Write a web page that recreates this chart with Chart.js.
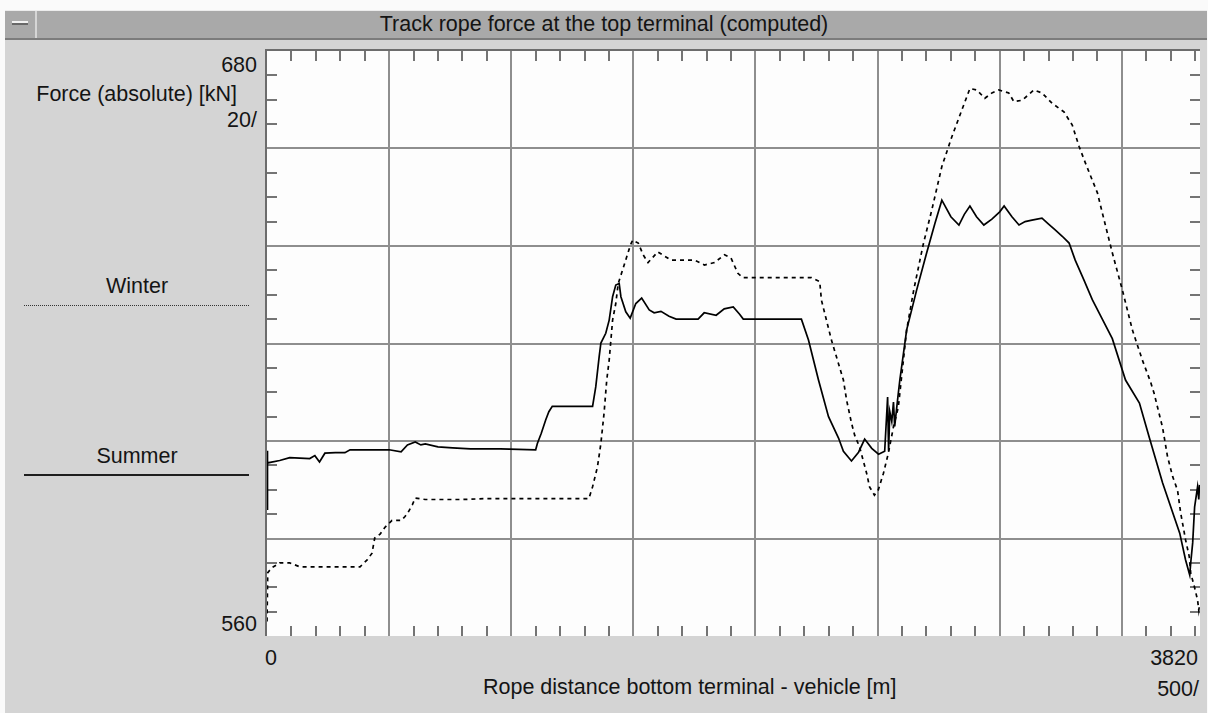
<!DOCTYPE html>
<html>
<head>
<meta charset="utf-8">
<title>Track rope force at the top terminal</title>
<script src="https://cdn.jsdelivr.net/npm/chart.js@4.4.1/dist/chart.umd.min.js"></script>
<style>
  body { margin: 0; width: 1208px; height: 713px; background: #fafafa; overflow: hidden; position: relative;
         font-family: "Liberation Sans", Arial, sans-serif; }
  #win { position: absolute; left: 5px; top: 10px; width: 1202px; height: 703px; background: #d4d4d4; }
  #bar { position: absolute; left: 5px; top: 10px; width: 1202px; height: 27px; background: #a9a9a9;
         border-top: 1px solid #ececec; border-bottom: 2px solid #7c7c7c; }
  #btn { position: absolute; left: 0; top: 0; width: 30px; height: 27px; border-right: 2px solid #d6d6d6; }
  #btn i { position: absolute; left: 7px; top: 10px; width: 16px; height: 2px; background: #f2f2f2; border-bottom: 2px solid #686868; }
  .t { position: absolute; font-size: 21.5px; line-height: 1; color: #141414; white-space: nowrap; }
  .line { position: absolute; left: 24px; width: 225px; }
  canvas { position: absolute; left: 0; top: 0; }
</style>
</head>
<body>
<div id="win"></div>
<div id="bar"><div id="btn"><i></i></div></div>
<div class="t" style="left:0; width:1208px; text-align:center; top:14px;">Track rope force at the top terminal (computed)</div>

<div class="t" style="right:951px; top:55px;">680</div>
<div class="t" style="right:971px; top:84px;">Force (absolute) [kN]</div>
<div class="t" style="right:951px; top:110px;">20/</div>
<div class="t" style="right:951px; top:614px;">560</div>

<div class="t" style="left:85px; width:104px; text-align:center; top:276px;">Winter</div>
<div class="line" style="top:305px; border-top:1px dotted #333;"></div>
<div class="t" style="left:85px; width:104px; text-align:center; top:446px;">Summer</div>
<div class="line" style="top:474px; height:2px; background:#1e1e1e;"></div>

<div class="t" style="left:265px; top:648px;">0</div>
<div class="t" style="right:10px; top:648px;">3820</div>
<div class="t" style="left:483px; top:677px;">Rope distance bottom terminal - vehicle [m]</div>
<div class="t" style="right:9px; top:679px;">500/</div>

<canvas id="chart" width="1208" height="713"></canvas>

<script>
// Summer run (solid) - distance [m] / force [kN]
const summerDist = [0, 1, 3, 52, 93, 134, 175, 196, 215, 237, 280, 319, 340, 400, 500, 549, 575, 607, 630, 648,
  700, 760, 833, 956, 1100, 1107, 1123, 1141, 1154, 1168, 1333, 1346, 1360, 1367, 1387, 1401, 1415, 1428, 1442, 1449,
  1469, 1487, 1510, 1534, 1565, 1585, 1613, 1646, 1675, 1720, 1765, 1790, 1839, 1872, 1909, 1935, 1950, 1970, 2065, 2150,
  2188, 2217, 2258, 2299, 2340, 2360, 2393, 2422, 2447, 2476, 2504, 2529, 2541, 2545, 2550, 2558, 2565, 2570, 2583, 2591,
  2619, 2660, 2701, 2734, 2763, 2800, 2833, 2855, 2878, 2905, 2935, 2968, 3000, 3018, 3050, 3079, 3104, 3132, 3173, 3200,
  3227, 3256, 3284, 3309, 3345, 3379, 3420, 3461, 3515, 3572, 3613, 3667, 3737, 3761, 3778, 3782, 3790, 3798, 3810, 3815, 3818];
const summerForce = [586, 598, 595.5, 596.0, 596.6, 596.5, 596.4, 597.0, 595.7, 597.5, 597.6, 597.6, 598.2, 598.2, 598.2, 597.8, 599.2, 599.8, 599.2, 599.4,
  598.8, 598.6, 598.4, 598.4, 598.2, 599.5, 601.6, 604.3, 606.0, 607.1, 607.1, 611.1, 617.3, 620.1, 622.1, 624.8, 629.6, 632.0, 632.3, 629.6,
  626.5, 625.2, 628.2, 629.3, 626.9, 626.3, 626.6, 625.6, 625.0, 625.0, 625.0, 626.3, 625.8, 627.1, 627.5, 626.0, 625.0, 625.0, 625.0, 625.0,
  625.0, 620.7, 612.5, 605.0, 600.6, 597.9, 595.9, 597.7, 600.4, 598.5, 597.3, 597.9, 609.0, 598.0, 606.0, 604.0, 608.0, 603.0, 609.0, 612.5,
  622.8, 631.0, 638.6, 644.5, 649.4, 646.0, 644.3, 646.5, 648.2, 646.0, 644.3, 645.5, 647.0, 648.2, 646.0, 644.3, 645.0, 645.3, 645.7, 644.5,
  643.3, 642.0, 640.6, 637.1, 633.0, 629.0, 625.0, 621.0, 612.5, 607.8, 600.6, 591.4, 581.1, 575.6, 572.5, 575.0, 579.1, 586.5, 590.6, 588.0, 591.0];

// Winter run (dashed)
const winterDist = [0, 3, 20, 52, 93, 134, 200, 300, 381, 410, 430, 441, 463, 483, 512, 549, 565, 577, 595, 607,
  648, 710, 800, 900, 1100, 1318, 1333, 1353, 1367, 1380, 1391, 1401, 1415, 1428, 1438, 1456, 1488, 1497, 1520, 1540,
  1560, 1600, 1654, 1750, 1791, 1832, 1873, 1900, 1928, 1949, 2000, 2100, 2229, 2263, 2270, 2311, 2360, 2373, 2393, 2406,
  2426, 2455, 2467, 2487, 2503, 2524, 2544, 2565, 2585, 2619, 2648, 2688, 2722, 2763, 2804, 2845, 2878, 2906, 2939, 2968,
  2996, 3037, 3058, 3092, 3140, 3173, 3214, 3263, 3297, 3325, 3351, 3379, 3400, 3420, 3448, 3461, 3502, 3543, 3584, 3617,
  3632, 3667, 3687, 3708, 3728, 3741, 3761, 3776, 3782, 3797, 3810, 3815, 3818];
const winterForce = [563, 573, 574, 575, 575.0, 574.2, 574.2, 574.2, 574.2, 575.6, 577.0, 580.1, 580.9, 582.3, 583.7, 583.7, 584.5, 585.3, 586.9, 588.3,
  588.0, 588.0, 588.0, 588.2, 588.2, 588.2, 590.6, 594.7, 599.5, 605.7, 612.5, 616.6, 624.8, 628.2, 632.3, 635.1, 640.2, 641.2, 640.6, 638.2,
  636.6, 638.8, 637.1, 637.1, 636.1, 636.6, 638.2, 637.5, 634.4, 633.5, 633.5, 633.5, 633.5, 632.7, 628.9, 620.7, 612.5, 608.4, 603.7, 601.2,
  598.8, 593.4, 590.6, 588.9, 590.0, 593.4, 597.5, 602.9, 607.0, 622.8, 631.0, 640.6, 647.4, 656.3, 662.4, 667.9, 672.3, 672.0, 670.3, 671.4,
  672.0, 671.4, 669.6, 669.9, 672.0, 671.4, 669.3, 667.5, 664.8, 660.4, 657.0, 653.5, 650.9, 646.8, 641.2, 638.6, 631.0, 622.8, 616.6, 612.2,
  609.8, 602.7, 596.8, 592.7, 589.9, 585.2, 579.7, 576.3, 572.9, 570.1, 567.4, 565.3, 566.4];

// axis ranges and grid positions
const xMin = 0, xMax = 3820, xMinor = 100;
const yMin = 560, yMax = 680, yMinor = 5;
const xGrid = [0, 500, 1000, 1500, 2000, 2500, 3000, 3500];
const yGrid = [560, 580, 600, 620, 640, 660, 680];

const toPoints = (xs, ys) => xs.map((d, i) => ({ x: d, y: ys[i] }));

// white plot area, small inner tick marks and the left/top frame
const plotFrame = {
  id: 'plotFrame',
  beforeDraw(chart) {
    const { ctx, chartArea: a } = chart;
    ctx.save();
    ctx.fillStyle = '#fdfdfd';
    ctx.fillRect(a.left, a.top, a.right - a.left, a.bottom - a.top);
    ctx.restore();
  },
  beforeDatasetsDraw(chart) {
    const { ctx, chartArea: a, scales: { x, y } } = chart;
    ctx.save();
    ctx.strokeStyle = '#747474';
    ctx.lineWidth = 2;
    ctx.beginPath();
    for (let m = xMin + xMinor; m < xMax; m += xMinor) {
      if (xGrid.includes(m)) continue;
      const px = Math.round(x.getPixelForValue(m));
      ctx.moveTo(px, a.top); ctx.lineTo(px, a.top + 10);
      ctx.moveTo(px, a.bottom); ctx.lineTo(px, a.bottom - 10);
    }
    for (let v = yMin + yMinor; v < yMax; v += yMinor) {
      if (yGrid.includes(v)) continue;
      const py = Math.round(y.getPixelForValue(v));
      ctx.moveTo(a.left, py); ctx.lineTo(a.left + 10, py);
      ctx.moveTo(a.right, py); ctx.lineTo(a.right - 10, py);
    }
    ctx.stroke();
    ctx.strokeStyle = '#6c6c6c';
    ctx.beginPath();
    ctx.moveTo(a.left - 1, a.bottom);
    ctx.lineTo(a.left - 1, a.top - 1);
    ctx.lineTo(a.right, a.top - 1);
    ctx.stroke();
    ctx.restore();
  }
};

const edgeless = (lo, hi) => ctx => (ctx.tick.value === lo || ctx.tick.value === hi) ? 'rgba(0,0,0,0)' : '#8e8e8e';

new Chart(document.getElementById('chart').getContext('2d'), {
  type: 'line',
  data: {
    datasets: [{
      label: 'Summer',
      data: toPoints(summerDist, summerForce),
      borderColor: '#000',
      borderWidth: 1.7,
      pointRadius: 0,
      tension: 0
    }, {
      label: 'Winter',
      data: toPoints(winterDist, winterForce),
      borderColor: '#000',
      borderWidth: 1.7,
      borderDash: [4, 4],
      pointRadius: 0,
      tension: 0
    }]
  },
  options: {
    responsive: false,
    animation: false,
    layout: { padding: { left: 267, top: 51, right: 8, bottom: 77 } },
    plugins: { legend: { display: false }, tooltip: { enabled: false } },
    scales: {
      x: {
        type: 'linear', min: xMin, max: xMax,
        afterBuildTicks: s => { s.ticks = xGrid.map(v => ({ value: v })); },
        ticks: { display: false },
        grid: { color: edgeless(xMin, xMax), lineWidth: 2, drawTicks: false },
        border: { display: false }
      },
      y: {
        type: 'linear', min: yMin, max: yMax,
        afterBuildTicks: s => { s.ticks = yGrid.map(v => ({ value: v })); },
        ticks: { display: false },
        grid: { color: edgeless(yMin, yMax), lineWidth: 2, drawTicks: false },
        border: { display: false }
      }
    }
  },
  plugins: [plotFrame]
});
</script>
</body>
</html>
